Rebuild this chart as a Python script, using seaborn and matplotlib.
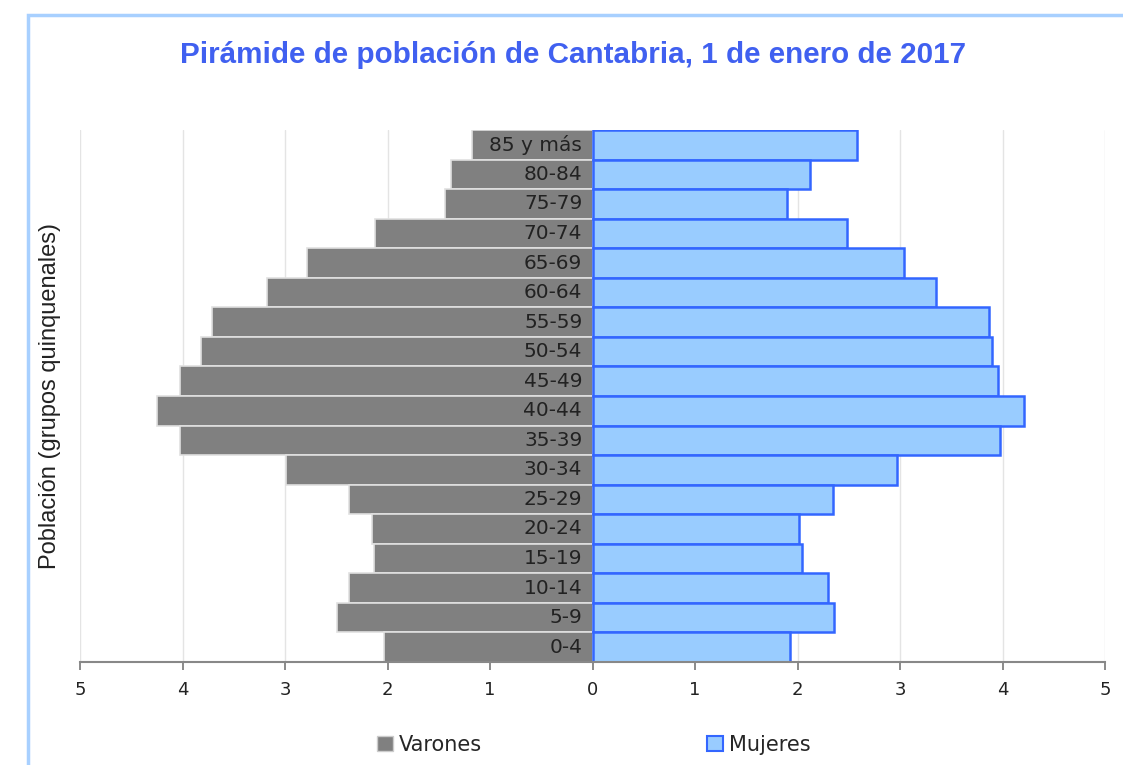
import numpy as np
import pandas as pd
import matplotlib
matplotlib.use("Agg")
import matplotlib.pyplot as plt
from matplotlib.patches import Patch, Rectangle
import seaborn as sns

# grupos de edad, de arriba abajo
edades = ['85 y más', '80-84', '75-79', '70-74', '65-69', '60-64', '55-59', '50-54',
          '45-49', '40-44', '35-39', '30-34', '25-29', '20-24', '15-19', '10-14', '5-9', '0-4']
# porcentaje sobre la poblacion total
varones = [1.18, 1.38, 1.44, 2.12, 2.79, 3.18, 3.71, 3.82, 4.02, 4.25, 4.02, 2.99,
           2.38, 2.15, 2.13, 2.38, 2.49, 2.03]
mujeres = [2.58, 2.12, 1.90, 2.48, 3.04, 3.35, 3.87, 3.90, 3.96, 4.21, 3.98, 2.97,
           2.35, 2.01, 2.04, 2.30, 2.36, 1.93]
xticks = [-5, -4, -3, -2, -1, 0, 1, 2, 3, 4, 5]

df = pd.DataFrame({'edad': edades, 'varones': [-v for v in varones], 'mujeres': mujeres})

sns.set_style("white")
plt.rcParams['font.family'] = ['DejaVu Sans']

fig = plt.figure(figsize=(11.23, 7.65), dpi=100)
ax = fig.add_axes([80/1123, 1 - 662/765, (1105 - 80)/1123, (662 - 130)/765])

gris = '#808080'
azul = '#99ccff'
borde_azul = '#3366ff'

sns.barplot(data=df, x='varones', y='edad', order=edades, orient='h', color=gris,
            width=1, edgecolor='#e0e0e0', linewidth=1.2, saturation=1, ax=ax, zorder=2)
sns.barplot(data=df, x='mujeres', y='edad', order=edades, orient='h', color=azul,
            width=1, edgecolor=borde_azul, linewidth=1.8, saturation=1, ax=ax, zorder=2)

# etiquetas de edad dentro de las barras de varones
for i, e in enumerate(edades):
    ax.text(-0.1, i, e, ha='right', va='center', fontsize=14.5, color='#222222', zorder=3)

ax.set_xlim(-5, 5)
ax.set_ylim(len(edades) - 0.5, -0.5)
ax.set_xticks(xticks)
ax.set_xticklabels([str(abs(t)) for t in xticks], fontsize=13, color='#222222')
ax.set_yticks([])
ax.set_xlabel('')
ax.set_ylabel('')
ax.xaxis.grid(True, color='#e4e4e4', linewidth=1, zorder=0)
ax.set_axisbelow(True)
for s in ['top', 'right', 'left']:
    ax.spines[s].set_visible(False)
ax.spines['bottom'].set_color('#888888')
ax.spines['bottom'].set_linewidth(1.5)
ax.tick_params(axis='x', bottom=True, direction='out', length=6, width=1.2,
               color='#777777', pad=8)

fig.text(573/1123, 1 - 55/765, 'Pirámide de población de Cantabria, 1 de enero de 2017',
         ha='center', va='center', fontsize=21.3, fontweight='bold', color='#4060f0',
         family='Liberation Sans')
fig.text(50/1123, 1 - 396/765, 'Población (grupos quinquenales)', rotation=90,
         ha='center', va='center', fontsize=17, color='#222222', family='Liberation Sans')

# marco azul claro
fig.patches.append(Rectangle((28/1123, -0.2), 1.2, 0.2 + 1 - 15/765, transform=fig.transFigure,
                             fill=False, edgecolor='#a8d0ff', linewidth=2.5))

handles = [Patch(facecolor=gris, edgecolor='#cccccc', label='Varones'),
           Patch(facecolor=azul, edgecolor=borde_azul, linewidth=1.5, label='Mujeres')]
fig.legend(handles=handles, loc='center', bbox_to_anchor=(594/1123, 1 - 745/765), ncol=2,
           frameon=False, fontsize=15, handlelength=0.75, handleheight=0.75,
           handletextpad=0.3, columnspacing=10.8)

fig.savefig('out.png', dpi=100)
